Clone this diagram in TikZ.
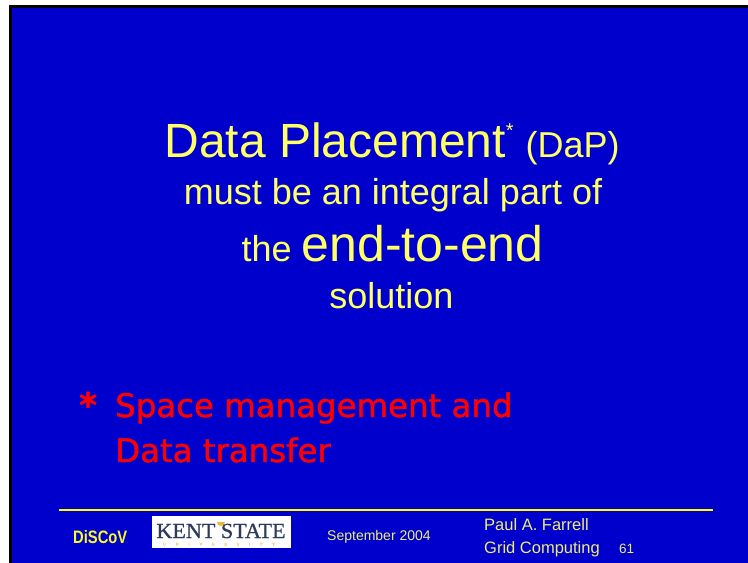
\documentclass[tikz,border=0pt]{standalone}
\usepackage{fontspec}
\setmainfont{Liberation Sans}
\newfontfamily\handfont[FakeBold=1.2]{DejaVu Sans}
\newfontfamily\logofont[FakeBold=0.8]{Liberation Serif}
\usetikzlibrary{positioning}
\definecolor{slide}{HTML}{0000CC}
\definecolor{frame}{HTML}{000000}
\definecolor{title}{HTML}{FFFF66}
\definecolor{foot}{HTML}{EEEE77}
\definecolor{rule}{HTML}{FFFF00}
\definecolor{note}{HTML}{FF0000}
\definecolor{kent}{HTML}{2E3A5C}
\definecolor{sun}{HTML}{E8B830}
\tikzset{
  lab/.style={text=title, inner sep=0pt, anchor=base},
  labfoot/.style={text=foot, inner sep=0pt, anchor=base west},
  labnote/.style={text=note, inner sep=0pt, anchor=base west, font=\handfont\fontsize{32.4}{36}\selectfont},
  logo/.style={fill=white, draw=none}
}
\newcommand{\fs}[1]{\fontsize{#1}{#1}\selectfont}
\begin{document}
\begin{tikzpicture}[x=1pt,y=-1pt]
  \useasboundingbox (0,0) rectangle (748,563);
  \fill[white] (0,0) rectangle (748,563);
  \fill[frame] (9,5) rectangle (748,563);
  \fill[slide] (12,8) rectangle (748,563);

  % title lines
  \node[lab] (t1) at (392,157) {\fs{48}Data Placement\raisebox{20pt}{\fs{20}*}\hspace{12pt}\fs{36}(DaP)};
  \node[lab] (t2) at (393,204) {\fs{36}must be an integral part of};
  \node[lab] (t3) at (392.5,261) {\fs{36}the \fs{50}end-to-end};
  \node[lab] (t4) at (391.5,308) {\fs{36}solution};

  % footnote
  \node[labnote, font=\handfont\bfseries\fs{34}] (star) at (79,417) {*};
  \node[labnote] (n1) at (115,417) {Space management and};
  \node[labnote] (n2) at (115,462) {Data transfer};

  % footer
  \coordinate (R1) at (59,510);
  \coordinate (R2) at (713,510);
  \draw[rule, line width=2pt] (R1) -- (R2);
  \node[labfoot, text=rule!70!foot, font=\bfseries\fs{18}] (disc) at (73,543) {\scalebox{0.82}[1]{DiSCoV}};
  \node[logo, minimum width=139pt, minimum height=32pt, anchor=north west] (logo) at (152,516) {};
  \fill[sun] (221,522) ++(-4,0) arc[start angle=180, end angle=0, radius=4] -- cycle;
  \node[inner sep=0pt, anchor=base, text=kent, font=\logofont\fs{21.5}] (kent) at (221,538) {\scalebox{1.03}[1]{KENT STATE}};
  \node[inner sep=0pt, anchor=base, text=sun!70!white, font=\logofont\fs{4}] (univ) at (219,545.5) {\makebox[112pt][s]{U\hfill N\hfill I\hfill V\hfill E\hfill R\hfill S\hfill I\hfill T\hfill Y}};
  \node[labfoot, font=\fs{14}] (date) at (327,540) {September 2004};
  \node[labfoot, font=\fs{16.5}] (auth) at (484,530) {Paul A. Farrell};
  \node[labfoot, font=\fs{16.5}] (course) at (484,553) {Grid Computing};
  \node[labfoot, font=\fs{13.5}] (page) at (619,553) {61};
\end{tikzpicture}
\end{document}
